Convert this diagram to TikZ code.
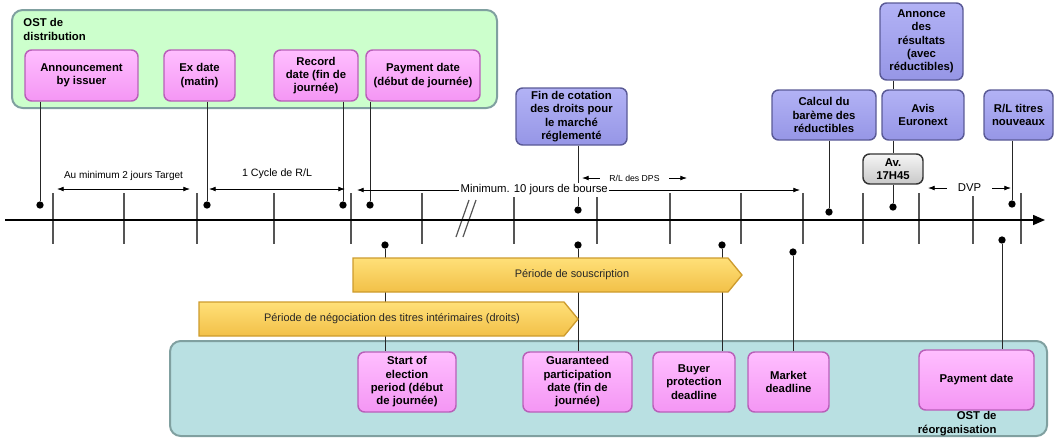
\documentclass[tikz,border=0pt]{standalone}
\usepackage{fontspec}
\setmainfont{Liberation Sans}
\usetikzlibrary{arrows.meta}

\definecolor{ostgreen}{RGB}{204,255,204}
\definecolor{ostteal}{RGB}{185,224,226}
\definecolor{ostline}{RGB}{128,160,160}
\definecolor{pinktop}{RGB}{255,190,255}
\definecolor{pinkbot}{RGB}{244,150,244}
\definecolor{pinkline}{RGB}{185,95,185}
\definecolor{bluetop}{RGB}{178,178,245}
\definecolor{bluebot}{RGB}{150,150,230}
\definecolor{blueline}{RGB}{90,90,150}
\definecolor{graytop}{RGB}{245,245,245}
\definecolor{graybot}{RGB}{200,200,200}
\definecolor{goldtop}{RGB}{255,224,120}
\definecolor{goldbot}{RGB}{242,192,72}
\definecolor{goldline}{RGB}{205,155,45}
\definecolor{tickgray}{RGB}{85,85,85}

\newcommand{\boxfont}{\fontsize{8.5}{10}\selectfont\bfseries}

\tikzset{every picture/.style={line width=0.75pt},
  ostbox/.style={draw=ostline, line width=1.5pt, rounded corners=8pt},
  pinkbox/.style={draw=pinkline, line width=1.1pt, rounded corners=5pt, top color=pinktop, bottom color=pinkbot, align=center, inner sep=1pt, font=\boxfont},
  bluebox/.style={pinkbox, draw=blueline, top color=bluetop, bottom color=bluebot},
  graybox/.style={pinkbox, draw=black!80, top color=graytop, bottom color=graybot},
  periodbar/.style={draw=goldline, line width=1pt, top color=goldtop, bottom color=goldbot},
  evdot/.style={circle, fill=black, inner sep=0pt, minimum size=5.5pt},
  stem/.style={draw=black!85, line width=0.75pt},
  tickline/.style={draw=tickgray, line width=0.9pt},
  dimspan/.style={{Latex[length=5pt,width=3.6pt]}-{Latex[length=5pt,width=3.6pt]}, line width=0.6pt},
}

\begin{document}
\begin{tikzpicture}[x=0.75pt,y=0.75pt,yscale=-1,xscale=1]
        \useasboundingbox (0,0) rectangle (1060,437);

        %Rounded Rect [OST de distribution]
        \draw [ostbox, fill=ostgreen] (12,10) rectangle (497,108) ;
        % Text Node
        \node [anchor=north west, align=left, font=\boxfont, inner sep=0.75pt] (ostdist) at (22,17) {OST de\\distribution};

        %Rounded Rect [OST de reorganisation]
        \draw [ostbox, fill=ostteal] (170,341) rectangle (1047,436) ;
        % Text Node
        \node [anchor=north east, align=right, font=\boxfont, inner sep=0.75pt] (ostreorg) at (998,410) {OST de\\réorganisation};

        %Ticks
        \foreach \tx in {53,124,197,274,351,422,514,597,670,741,803,863,919,973,1021}
          \draw [tickline] (\tx,193) -- (\tx,244) ;
        \draw [tickline] (456,237) -- (469,200) ;
        \draw [tickline] (463,237) -- (476,200) ;

        %Axis
        \draw [line width=1.1pt, -{Triangle[length=9pt,width=7.5pt]}] (5,220) -- (1045,220) ;

        %Event boxes, top
        \node [pinkbox, minimum width=84.75pt, minimum height=38.25pt] (announce) at (81.5,75.5) {Announcement\\by issuer};
        \node [pinkbox, minimum width=53.25pt, minimum height=38.25pt] (exdate) at (199.5,75.5) {Ex date\\(matin)};
        \node [pinkbox, minimum width=63pt, minimum height=38.25pt] (record) at (316,75.5) {Record\\date (fin de\\journée)};
        \node [pinkbox, minimum width=85.5pt, minimum height=38.25pt] (paytop) at (423,75.5) {Payment date\\(début de journée)};
        \node [bluebox, minimum width=83.25pt, minimum height=42.75pt] (fincot) at (571.5,116.5) {Fin de cotation\\des droits pour\\le marché\\réglementé};
        \node [bluebox, minimum width=78pt, minimum height=37.5pt] (calcul) at (824,115) {Calcul du\\barème des\\réductibles};
        \node [bluebox, minimum width=62.25pt, minimum height=57.75pt] (annres) at (921.5,41.5) {Annonce\\des\\résultats\\(avec\\réductibles)};
        \node [bluebox, minimum width=61.5pt, minimum height=37.5pt] (avis) at (923,115) {Avis\\Euronext};
        \node [bluebox, minimum width=51.75pt, minimum height=37.5pt] (rltitres) at (1018.5,115) {R/L titres\\nouveaux};
        \node [graybox, minimum width=45pt, minimum height=22.5pt] (av) at (893,169) {Av.\\17H45};

        %Event boxes, bottom
        \node [pinkbox, minimum width=73.5pt, minimum height=45pt] (startel) at (407,382) {Start of\\election\\period (début\\de journée)};
        \node [pinkbox, minimum width=81.75pt, minimum height=45pt] (guarant) at (577.5,382) {Guaranteed\\participation\\date (fin de\\journée)};
        \node [pinkbox, minimum width=61.5pt, minimum height=45pt] (buyer) at (694,382) {Buyer\\protection\\deadline};
        \node [pinkbox, minimum width=60.75pt, minimum height=45pt] (market) at (788.5,382) {Market\\deadline};
        \node [pinkbox, minimum width=86.25pt, minimum height=45pt] (paybot) at (976.5,380) {Payment date};

        %Dots on the axis
        \node [evdot] (d1) at (40,205) {};
        \node [evdot] (d2) at (207,205) {};
        \node [evdot] (d3) at (343,205) {};
        \node [evdot] (d4) at (370,205) {};
        \node [evdot] (d5) at (578,210) {};
        \node [evdot] (d6) at (829,212) {};
        \node [evdot] (d7) at (893,207) {};
        \node [evdot] (d8) at (1012,204) {};
        \node [evdot] (e1) at (385,245) {};
        \node [evdot] (e2) at (578,245) {};
        \node [evdot] (e3) at (722,245) {};
        \node [evdot] (e4) at (793,252) {};
        \node [evdot] (e5) at (1002,240) {};

        %Straight Lines
        \draw [stem] (announce.south -| d1) -- (d1) ;
        \draw [stem] (exdate.south -| d2) -- (d2) ;
        \draw [stem] (record.south -| d3) -- (d3) ;
        \draw [stem] (paytop.south -| d4) -- (d4) ;
        \draw [stem] (fincot.south -| d5) -- (d5) ;
        \draw [stem] (calcul.south -| d6) -- (d6) ;
        \draw [stem] (annres.south -| d7) -- (avis.north -| d7) ;
        \draw [stem] (avis.south -| d7) -- (av.north) ;
        \draw [stem] (av.south) -- (d7) ;
        \draw [stem] (rltitres.south -| d8) -- (d8) ;
        \draw [stem] (e1) -- (startel.north -| e1) ;
        \draw [stem] (e2) -- (guarant.north -| e2) ;
        \draw [stem] (e3) -- (buyer.north -| e3) ;
        \draw [stem] (e4) -- (market.north -| e4) ;
        \draw [stem] (e5) -- (paybot.north -| e5) ;

        %Periods
        \draw [periodbar] (353,258) -- (728,258) -- (742,275) -- (728,292) -- (353,292) -- cycle ;
        \node [font=\fontsize{8.2}{10}\selectfont, text=black!85] (souscr) at (572,275) {Période de souscription};
        \draw [periodbar] (199,302) -- (564,302) -- (578,319) -- (564,336) -- (199,336) -- cycle ;
        \node [font=\fontsize{8.2}{10}\selectfont, text=black!85] (negoc) at (392,319) {Période de négociation des titres intérimaires (droits)};

        %Spans
        \coordinate (t1) at (57,189) ;
        \coordinate (t2) at (190,189) ;
        \draw [dimspan] (t1) -- node [above=3pt, font=\fontsize{7.5}{9}\selectfont] {Au minimum 2 jours Target} (t2) ;
        \coordinate (c1) at (209,189) ;
        \coordinate (c2) at (345,189) ;
        \draw [dimspan] (c1) -- node [above=4pt, font=\fontsize{8}{9}\selectfont] {1 Cycle de R/L} (c2) ;
        \coordinate (m1) at (357,190) ;
        \coordinate (m2) at (800,190) ;
        \draw [dimspan] (m1) -- node [pos=0.4, fill=white, inner sep=1pt, font=\fontsize{8.5}{10}\selectfont] {Minimum. 10 jours de bourse} (m2) ;
        \coordinate (r1) at (582,178) ;
        \coordinate (r2) at (687,178) ;
        \draw [dimspan] (r1) -- node [fill=white, inner xsep=7pt, inner ysep=3pt, font=\fontsize{6.5}{8}\selectfont] {R/L des DPS} (r2) ;
        \coordinate (v1) at (928,188) ;
        \coordinate (v2) at (1011,188) ;
        \draw [dimspan] (v1) -- node [fill=white, inner xsep=8pt, font=\fontsize{8.5}{10}\selectfont] {DVP} (v2) ;
\end{tikzpicture}
\end{document}
